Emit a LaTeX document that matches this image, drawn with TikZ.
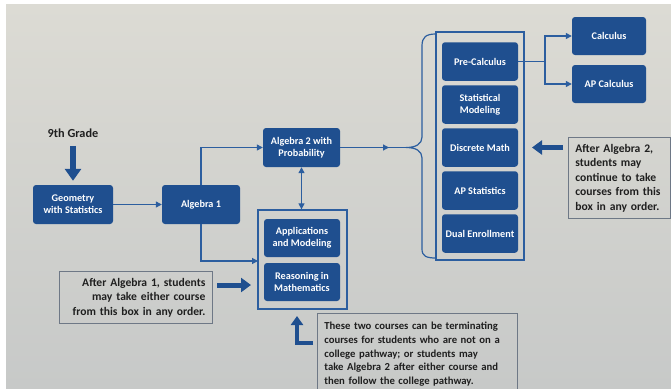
\documentclass[tikz,border=0pt]{standalone}
\usepackage{fontspec}
\setmainfont{Carlito}
\usetikzlibrary{arrows.meta,calc}
\definecolor{boxblue}{HTML}{1F4F8F}
\definecolor{lineblue}{HTML}{2C5E9F}
\definecolor{framegray}{HTML}{6E7886}
\definecolor{paperA}{HTML}{DCDBD4}
\definecolor{paperB}{HTML}{C7C9C8}
\begin{document}
\begin{tikzpicture}[x=1pt,y=-1pt,
  course/.style={fill=boxblue, rounded corners=3pt, text=white,
    font=\bfseries\fontsize{10.2}{12}\selectfont, align=center,
    minimum width=77pt, minimum height=39pt, inner sep=1pt},
  conn/.style={draw=lineblue, line width=1.2pt},
  tip/.style={-{Triangle[length=6pt,width=6pt]}},
  fatarrow/.style={draw=boxblue, line width=5pt, -{Triangle[length=10pt,width=14pt]}},
  grp/.style={draw=lineblue, line width=1.3pt, inner sep=0pt},
  note/.style={draw=framegray, line width=0.8pt, text=black!88,
    font=\bfseries\fontsize{11.6}{14.5}\selectfont, inner xsep=7pt, inner ysep=4pt}
]
\useasboundingbox (0,0) rectangle (671,388);
\clip (0,0) rectangle (671,388);
\fill[white] (0,0) rectangle (671,388);
\shade[top color=paperA, bottom color=paperB] (6,4) rectangle (671,388);

% group outlines
\node[grp, minimum width=89pt, minimum height=99pt] (appbox) at (302.5,259.5) {};
\node[grp, minimum width=88pt, minimum height=228pt] (rbox) at (480,146) {};

% courses
\node[course, minimum width=80pt] (geom) at (73,204.5) {Geometry\\with Statistics};
\node[course, minimum width=78pt] (alg1) at (201,204.5) {Algebra 1};
\node[course] (alg2) at (301.5,147.5) {Algebra 2 with\\Probability};
\node[course, minimum width=76pt, minimum height=38pt] (apps) at (302,238) {Applications\\and Modeling};
\node[course, minimum width=76pt, minimum height=38pt] (reason) at (302,282) {Reasoning in\\Mathematics};

\node[course, minimum width=76pt, minimum height=38.5pt] (precalc) at (480,61.5) {Pre-Calculus};
\node[course, minimum width=76pt, minimum height=38.5pt] (statmod) at (480,104.5) {Statistical\\Modeling};
\node[course, minimum width=76pt, minimum height=38.5pt] (discrete) at (480,147.5) {Discrete Math};
\node[course, minimum width=76pt, minimum height=38.5pt] (apstat) at (480,190.5) {AP Statistics};
\node[course, minimum width=76pt, minimum height=38.5pt] (dual) at (480,233.5) {Dual Enrollment};

\node[course, minimum width=74pt, minimum height=38pt] (calc) at (609,36) {Calculus};
\node[course, minimum width=74pt, minimum height=38pt] (apcalc) at (609,84) {AP Calculus};

% connectors
\draw[conn,tip] (geom) -- (alg1);
\draw[conn,tip] (alg1.north) |- (alg2.west);
\coordinate (appin) at (258,261);
\draw[conn,tip] (alg1.south) |- (appin);
\draw[conn,{Triangle[length=6pt,width=6pt]}-{Triangle[length=6pt,width=6pt]}] (alg2.south) -- (alg2.south |- appbox.north);

\coordinate (bracetip) at (406,147.5);
\coordinate (midhead) at (389,147.5);
\draw[conn] (alg2.east) -- (bracetip);
\draw[conn,tip] (alg2.east) -- (midhead);
\draw[conn] (436,34) .. controls (426,34) and (422,37) .. (422,46) -- (422,137)
  .. controls (422,144) and (416,147.5) .. (bracetip)
  .. controls (416,147.5) and (422,151) .. (422,158) -- (422,249)
  .. controls (422,256) and (426,258) .. (436,258);

\coordinate (split) at (545,61.5);
\draw[conn] (precalc.east) -- (split);
\draw[conn,tip] (split) |- (calc.west);
\draw[conn,tip] (split) |- (apcalc.west);

% 9th grade
\node[font=\bfseries\fontsize{12.3}{14}\selectfont, text=black!88] (ninth) at (73,133) {9th Grade};
\draw[fatarrow, line width=6pt, -{Triangle[length=12pt,width=16pt]}] ([yshift=-5pt]ninth.south) -- ([yshift=4pt]geom.north);

% notes
\node[note, anchor=north west, minimum width=102pt, minimum height=81pt, text width=88pt, align=left] (note2) at (568,137)
  {After Algebra 2,\\students may\\continue to take\\courses from this\\box in any order.};
\coordinate (a2s) at (563,147.5);
\coordinate (a2e) at (532,147.5);
\draw[fatarrow] (a2s) -- (a2e);

\node[note, anchor=north west, minimum width=153pt, minimum height=52pt, text width=139pt, align=right] (note1) at (59,271)
  {After Algebra 1, students\\may take either course\\from this box in any order.};
\coordinate (a1s) at (217,285);
\coordinate (a1e) at (251,285);
\draw[fatarrow] (a1s) -- (a1e);

\node[note, anchor=north west, minimum width=200pt, minimum height=82pt, text width=186pt, align=left,
  font=\bfseries\fontsize{10.7}{13.7}\selectfont] (note3) at (317,313)
  {These two courses can be terminating\\courses for students who are not on a\\college pathway; or students may\\take Algebra 2 after either course and\\then follow the college pathway.};
\coordinate (ls) at (313,343);
\coordinate (lc) at (297,343);
\coordinate (le) at (297,316);
\draw[fatarrow, line width=4pt, line join=miter, -{Triangle[length=9pt,width=12pt]}] (ls) -- (lc) -- (le);
\end{tikzpicture}
\end{document}
